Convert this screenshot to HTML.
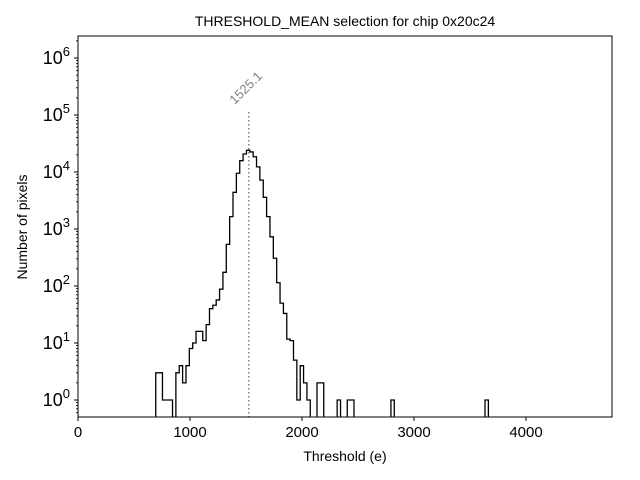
<!DOCTYPE html>
<html><head><meta charset="utf-8"><style>
body{margin:0;background:#fff}
svg{display:block;font-family:"Liberation Sans","DejaVu Sans",sans-serif}
</style></head><body>
<svg id="chart" width="640" height="480" viewBox="0 0 640 480">
<rect width="640" height="480" fill="#fff"/>
<text x="345" y="26" text-anchor="middle" font-size="14">THRESHOLD_MEAN selection for chip 0x20c24</text>
<text x="345" y="461" text-anchor="middle" font-size="14">Threshold (e)</text>
<text transform="translate(27,227) rotate(-90)" text-anchor="middle" font-size="14">Number of pixels</text>
<g id="plot"></g>
</svg>
<script>
const binStart = 694;
const binWidth = 30.0;
const counts = [3,3,1,1,1,0,3,4,2,4,8,10,16,16,11,21,40,46,57,88,174,537,1650,4400,9500,15800,20700,24000,22500,18500,12300,7200,3600,1650,730,307,114,50,33,11.7,11,5,1,4,2,1,0,0,2,2,0,0,0,0,1,0,0,1,1,0,0,0,0,0,0,0,0,0,0,0,1,0,0,0,0,0,0,0,0,0,0,0,0,0,0,0,0,0,0,0,0,0,0,0,0,0,0,0,1];
const xTicks = [0,1000,2000,3000,4000];
const yTickExps = [0,1,2,3,4,5,6];
const meanValue = 1525.1;
const meanLabel = "1525.1";

const L=78,R=612,T=36,B=417;
const xScale = v => L + v*0.112;
const yScale = v => 400 - 57*Math.log10(v);
const NS="http://www.w3.org/2000/svg";
const g=document.getElementById('plot');
function mk(tag,attrs){const e=document.createElementNS(NS,tag);for(const k in attrs)e.setAttribute(k,attrs[k]);g.appendChild(e);return e;}

let d;
const clampY = c => c>0 ? Math.min(yScale(c),B+2) : B+2;
d='M'+xScale(binStart)+','+(B+2);
for(let i=0;i<counts.length;i++){
  const x0=xScale(binStart+i*binWidth), x1=xScale(binStart+(i+1)*binWidth), y=clampY(counts[i]);
  d+=' L'+x0+','+y+' L'+x1+','+y;
}
d+=' L'+xScale(binStart+counts.length*binWidth)+','+(B+2);
const clip=mk('clipPath',{id:'pc'});
const cr=document.createElementNS(NS,'rect');cr.setAttribute('x',L);cr.setAttribute('y',T);cr.setAttribute('width',R-L);cr.setAttribute('height',B-T);clip.appendChild(cr);
const hist=mk('path',{d:d,fill:'none',stroke:'#000','stroke-width':1.3,'clip-path':'url(#pc)'});



const mx=xScale(meanValue);
const ml=mk('line',{x1:mx,x2:mx,y1:112,y2:B,stroke:'#808080','stroke-width':1.5,'stroke-dasharray':'1.5,2.5'});


const mt=mk('text',{transform:'translate('+(mx-14)+',105) rotate(-45)','font-size':13,fill:'#808080'});
mt.textContent=meanLabel;



const fr=mk('rect',{x:L,y:T,width:R-L,height:B-T,fill:'none',stroke:'#000','stroke-width':1});



xTicks.forEach(v=>{
  const x=xScale(v);
  const t=mk('line',{x1:x,x2:x,y1:B,y2:B+4,stroke:'#000'});
  
  
  const lb=mk('text',{x:x,y:B+20,'text-anchor':'middle','font-size':15});
  lb.textContent=v;
  
  
});
for(let e=-1;e<=6;e++){
  for(let m=2;m<=9;m++){
    const y=yScale(m*Math.pow(10,e));
    if(y<T||y>B)continue;
    const t=mk('line',{x1:L-2,x2:L,y1:y,y2:y,stroke:'#000','stroke-width':0.8});
    
    
  }
}
yTickExps.forEach(e=>{
  const y=yScale(Math.pow(10,e));
  const t=mk('line',{x1:L-4,x2:L,y1:y,y2:y,stroke:'#000'});
  
  
  const lb=mk('text',{x:L-8,y:y+6,'text-anchor':'end','font-size':18});
  lb.innerHTML='10<tspan dy="-8" font-size="13">'+e+'</tspan>';
  
  
});
</script>
</body></html>
